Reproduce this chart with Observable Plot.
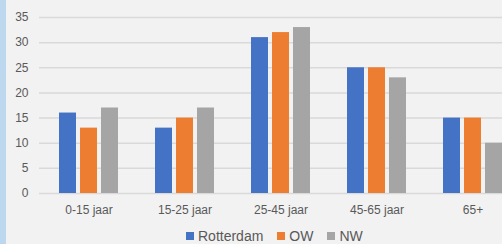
<!DOCTYPE html>
<html><head><meta charset="utf-8">
<script src="https://cdn.jsdelivr.net/npm/d3@7"></script>
<script src="https://cdn.jsdelivr.net/npm/@observablehq/plot@0.6"></script>
<style>
html,body{margin:0;padding:0;background:#f2f2f2;width:502px;height:244px;overflow:hidden;font-family:"Liberation Sans",Arial,sans-serif;}
#strip{position:absolute;left:0;top:0;width:6px;height:244px;background:#bdd7ee;}
#chart svg{display:block;}
#legend{display:flex;align-items:center;padding-left:186px;height:16px;font-size:14px;color:#595959;line-height:16px;}
.item{display:flex;align-items:center;margin-right:14px;}
.sw{width:8px;height:8px;margin-right:4px;}
</style></head><body>
<div id="strip"></div><div id="chart"></div><div id="legend"></div>
<script>
const categories = ["0-15 jaar","15-25 jaar","25-45 jaar","45-65 jaar","65+"];
const series = ["Rotterdam","OW","NW"];
const rotterdam = [16,13,31,25,15];
const ow = [13,15,32,25,15];
const nw = [17,17,33,23,10];
const colors = ["#4472c4","#ed7d31","#a5a5a5"];
const yTicks = [0,5,10,15,20,25,30,35];

const values = [rotterdam, ow, nw];
const data = series.flatMap((s,i)=>categories.map((c,j)=>({category:c, series:s, value:values[i][j]})));
const offsets = [-21,0,21];

const plot = Plot.plot({
  width:502, height:228, marginTop:17, marginBottom:35, marginLeft:39, marginRight:0,
  style:{background:"transparent", fontFamily:"'Liberation Sans', Arial, sans-serif", fontSize:"12px", color:"#595959"},
  x:{domain:categories, range:[39,521.5], paddingInner:0.824, paddingOuter:0.412, align:0.5, label:null, tickSize:0, tickPadding:12},
  y:{domain:[0,35], ticks:yTicks, label:null, tickSize:0, tickPadding:11},
  color:{domain:series, range:colors},
  marks:[
    Plot.ruleY(yTicks,{stroke:"#d9d9d9", strokeWidth:1.5}),
    ...series.map((s,i)=>Plot.barY(data.filter(d=>d.series===s),{x:"category", y:"value", fill:"series", dx:offsets[i]}))
  ]
});
document.getElementById("chart").appendChild(plot);

const legend = document.getElementById("legend");
series.forEach((s,i)=>{
  const it=document.createElement("div"); it.className="item";
  const sw=document.createElement("div"); sw.className="sw"; sw.style.background=colors[i];
  const t=document.createElement("span"); t.textContent=s;
  it.appendChild(sw); it.appendChild(t); legend.appendChild(it);
});
</script>
</body></html>
